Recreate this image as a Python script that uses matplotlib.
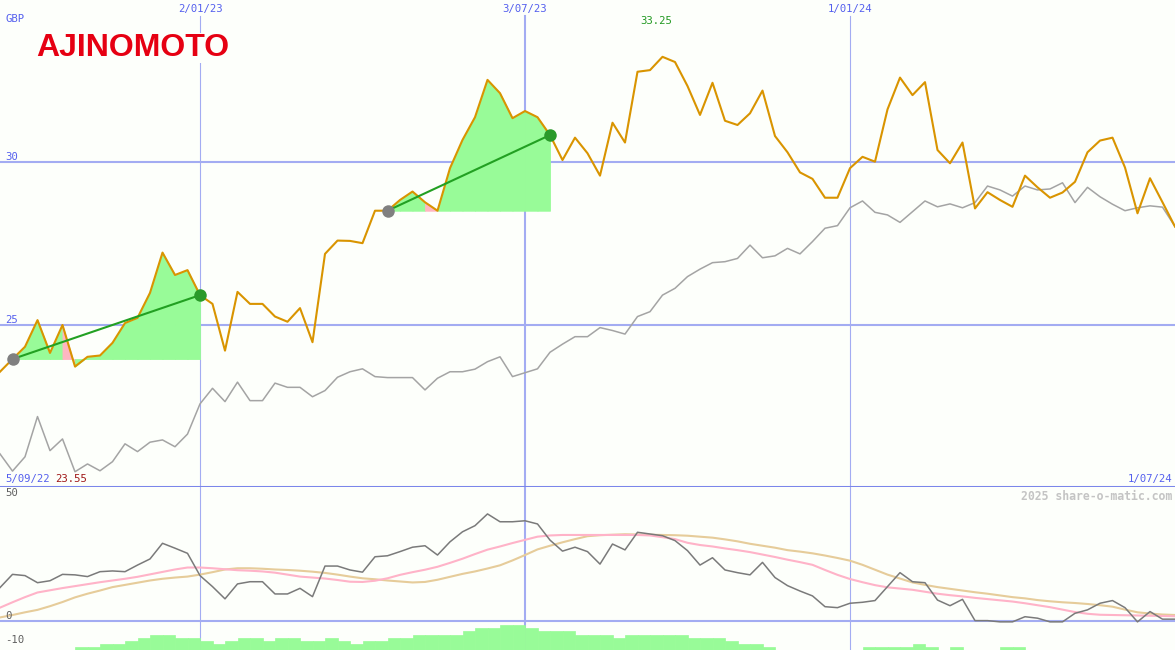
import numpy as np
import pandas as pd
import matplotlib
matplotlib.use('Agg')
import matplotlib.pyplot as plt
import matplotlib.transforms as mtransforms

# weekly closes, GBP
dates = pd.date_range('2022-09-12', periods=95, freq='7D')
start_label = '5/09/22'
end_label = '1/07/24'

price = [23.55, 23.94, 24.32, 25.14, 24.13, 24.99, 23.71, 24.01, 24.05, 24.44,
         25.05, 25.21, 25.98, 27.22, 26.53, 26.68, 25.91, 25.64, 24.20, 26.01,
         25.64, 25.64, 25.25, 25.09, 25.51, 24.46, 27.18, 27.59, 27.58, 27.51,
         28.51, 28.51, 28.84, 29.10, 28.77, 28.51, 29.82, 30.69, 31.39, 32.54,
         32.13, 31.36, 31.58, 31.39, 30.84, 30.07, 30.76, 30.28, 29.59, 31.22,
         30.61, 32.79, 32.84, 33.25, 33.09, 32.35, 31.46, 32.45, 31.28, 31.15,
         31.51, 32.21, 30.81, 30.31, 29.69, 29.49, 28.91, 28.91, 29.82, 30.17,
         30.02, 31.63, 32.61, 32.07, 32.47, 30.38, 29.97, 30.61, 28.58, 29.08,
         28.84, 28.63, 29.59, 29.23, 28.91, 29.07, 29.40, 30.31, 30.67, 30.76,
         29.84, 28.43, 29.51, 28.77, 28.02]

# comparison index (rebased)
index = [21.02, 20.49, 20.93, 22.17, 21.12, 21.48, 20.47, 20.71, 20.50, 20.78,
         21.33, 21.09, 21.38, 21.45, 21.24, 21.63, 22.56, 23.04, 22.63, 23.23,
         22.66, 22.66, 23.20, 23.07, 23.07, 22.78, 22.97, 23.38, 23.55, 23.64,
         23.40, 23.37, 23.37, 23.37, 22.99, 23.35, 23.55, 23.55, 23.63, 23.86,
         24.01, 23.40, 23.52, 23.64, 24.15, 24.40, 24.63, 24.63, 24.91, 24.82,
         24.71, 25.25, 25.40, 25.91, 26.12, 26.48, 26.71, 26.91, 26.94, 27.04,
         27.45, 27.06, 27.12, 27.35, 27.18, 27.56, 27.97, 28.05, 28.60, 28.81,
         28.46, 28.38, 28.15, 28.48, 28.81, 28.63, 28.72, 28.60, 28.76, 29.27,
         29.15, 28.96, 29.27, 29.15, 29.18, 29.37, 28.76, 29.23, 28.94, 28.71,
         28.51, 28.60, 28.66, 28.62, 28.02]

# lower panel oscillator and its two averages
osc = [13.5, 18.9, 18.4, 15.5, 16.3, 18.9, 18.7, 18.0, 20.0, 20.3,
       20.0, 22.7, 25.2, 31.6, 29.6, 27.5, 18.4, 13.9, 8.9, 15.0,
       15.9, 15.9, 10.9, 10.9, 13.2, 9.8, 22.3, 22.3, 20.7, 19.8,
       26.1, 26.5, 28.2, 30.0, 30.6, 26.8, 32.2, 36.3, 38.8, 43.6,
       40.4, 40.4, 40.8, 39.5, 32.9, 28.4, 30.0, 28.2, 23.1, 31.3,
       28.9, 36.1, 35.4, 34.7, 32.7, 28.6, 22.7, 25.7, 20.7, 19.6,
       18.7, 23.8, 17.6, 14.3, 12.1, 10.1, 5.7, 5.3, 7.1, 7.5,
       8.2, 13.9, 19.6, 15.9, 15.5, 8.4, 6.1, 8.7, 0.0, 0.0,
       -0.5, -0.5, 1.6, 1.0, -0.5, -0.5, 3.0, 4.4, 7.1, 8.2,
       5.3, -0.5, 3.7, 0.6, 0.6]

avg_fast = [5.3, 7.5, 9.6, 11.5, 12.4, 13.3, 14.1, 14.9, 15.7, 16.4,
            17.1, 17.9, 18.9, 19.9, 20.9, 21.7, 21.7, 21.4, 21.0, 20.6,
            20.4, 20.1, 19.6, 18.8, 18.0, 17.6, 17.2, 16.6, 15.9, 15.8,
            16.3, 17.3, 18.7, 19.8, 20.8, 22.0, 23.6, 25.3, 27.2, 29.0,
            30.3, 31.7, 33.0, 34.3, 34.8, 35.0, 35.0, 35.0, 35.0, 35.0,
            35.0, 35.0, 34.8, 34.1, 33.3, 31.8, 30.9, 30.3, 29.5, 28.8,
            28.0, 27.0, 26.0, 24.9, 23.9, 22.8, 20.7, 18.7, 17.0, 15.7,
            14.5, 13.6, 13.1, 12.6, 11.8, 11.0, 10.4, 9.9, 9.3, 8.8,
            8.3, 7.8, 7.1, 6.3, 5.5, 4.5, 3.5, 2.8, 2.4, 2.3,
            2.2, 2.1, 2.0, 1.9, 1.8]

avg_slow = [1.3, 2.3, 3.4, 4.4, 5.9, 7.6, 9.5, 11.0, 12.3, 13.7,
            14.6, 15.5, 16.4, 17.1, 17.6, 18.0, 18.8, 19.8, 20.9, 21.4,
            21.4, 21.2, 20.9, 20.7, 20.4, 20.0, 19.5, 18.8, 18.0, 17.3,
            16.9, 16.4, 16.0, 15.6, 15.8, 16.7, 17.9, 19.1, 20.1, 21.3,
            22.6, 24.6, 26.8, 29.1, 30.6, 32.0, 33.3, 34.5, 34.9, 35.1,
            35.3, 35.2, 35.1, 35.0, 34.9, 34.7, 34.3, 33.9, 33.2, 32.4,
            31.4, 30.6, 29.8, 28.8, 28.2, 27.5, 26.6, 25.6, 24.5, 22.8,
            20.8, 18.8, 17.2, 15.6, 14.6, 13.7, 13.0, 12.3, 11.6, 11.0,
            10.3, 9.6, 9.1, 8.4, 7.9, 7.5, 7.2, 6.8, 6.3, 5.7,
            4.5, 3.4, 2.9, 2.5, 2.3]

# histogram tops (nan = no bar)
nan = np.nan
hist = [nan, nan, nan, nan, nan, nan, -10.9, -10.9, -9.5, -9.5,
        -8.2, -6.9, -5.8, -5.8, -6.9, -6.9, -8.2, -9.5, -8.2, -6.9,
        -6.9, -8.2, -6.9, -6.9, -8.2, -8.2, -6.9, -8.2, -9.5, -8.2,
        -8.2, -6.9, -6.9, -5.8, -5.8, -5.8, -5.8, -4.1, -2.9, -2.9,
        -1.8, -1.8, -2.9, -4.1, -4.1, -4.1, -5.8, -5.8, -5.8, -6.9,
        -5.8, -5.8, -5.8, -5.8, -5.8, -6.9, -6.9, -6.9, -8.2, -9.5,
        -9.5, -10.9, nan, nan, nan, nan, nan, nan, nan, -10.9,
        -10.9, -10.9, -10.9, -9.5, -10.9, nan, -10.9, nan, nan, nan,
        -10.9, -10.9, nan, nan, nan, nan, nan, nan, nan, nan,
        nan, nan, nan, nan, nan]

# buy / sell signal pairs (week index)
sig_start = [1, 31]
sig_end = [16, 44]

price_ticks = [30, 25]
osc_ticks = [50, 0, -10]
vlines = ['2023-01-02', '2023-07-03', '2024-01-01']
vline_lw = [0.8, 1.5, 0.8]

bg = '#fdfffb'
grid_c = '#a3acf2'
blue = '#5560ee'

W, H = 1175, 650
fig = plt.figure(figsize=(W / 100, H / 100), dpi=100, facecolor=bg)
ax = fig.add_axes([0, 163 / H, 1, 487 / H])
ax2 = fig.add_axes([0, 0, 1, 163 / H])
for a in (ax, ax2):
    a.set_facecolor(bg)
    a.set_xticks([])
    a.set_yticks([])
    for s in a.spines.values():
        s.set_visible(False)
    a.set_xlim(dates[0], dates[-1])
ax.set_ylim(20, 35)
ax2.set_ylim(-12, 54.6)

mono = 'DejaVu Sans Mono'

def ptext(x, y, s, **kw):
    fig.text(x / W, 1 - y / H, s, family=mono, fontsize=7.7, **kw)

# grid
for v in price_ticks:
    ax.axhline(v, color=grid_c, lw=1.5, zorder=1)
    ax.text(5 / W, v, str(v), transform=mtransforms.blended_transform_factory(ax.transAxes, ax.transData),
            family=mono, fontsize=7.7, color=blue, va='bottom', ha='left')
ax2.axhline(0, color=grid_c, lw=1.5, zorder=1)
for v in osc_ticks:
    ax2.text(5 / W, v, str(v), transform=mtransforms.blended_transform_factory(ax2.transAxes, ax2.transData),
             family=mono, fontsize=7.7, color='#606060', va='bottom', ha='left')
ax.axhline(20, color='#7b86ea', lw=2.2, zorder=6, clip_on=False)

top = mtransforms.blended_transform_factory(ax.transData, ax.transAxes)
for d, lw in zip(vlines, vline_lw):
    dd = pd.Timestamp(d)
    ax.axvline(dd, ymax=1 - 16 / 487, color=grid_c, lw=lw, zorder=1)
    ax2.axvline(dd, color=grid_c, lw=lw, zorder=1)
    ax.text(dd, 1 - 9 / 487, dd.strftime('%-d/%m/%y'), transform=top, family=mono,
            fontsize=7.7, color=blue, ha='center', va='center')

# signal fills, one segment at a time, coloured by the segment end
for s, e in zip(sig_start, sig_end):
    base = price[s]
    for i in range(s, e):
        c = '#98fb98' if price[i + 1] > base else '#ffb6c1'
        ax.fill_between(dates[i:i + 2], price[i:i + 2], base, facecolor=c,
                        edgecolor=c, lw=0.6, zorder=2)

ax.plot(dates, index, color='#a4a4a4', lw=1.1, zorder=3)
ax.plot(dates, price, color='#d99400', lw=1.5, zorder=4)

for s, e in zip(sig_start, sig_end):
    ax.plot([dates[s], dates[e]], [price[s], price[e]], color='#22a022', lw=1.5, zorder=5)
    ax.plot(dates[s], price[s], 'o', ms=9, color='#808080', mec='none', zorder=6)
    ax.plot(dates[e], price[e], 'o', ms=9, color='#2a9a2a', mec='none', zorder=6)

# lower panel
ax2.bar(dates, np.array(hist) + 12, bottom=-12, width=7, align='edge', color='#98fb98',
        edgecolor='#98fb98', lw=0.5, zorder=1)
ax2.plot(dates, avg_slow, color='#e6cc9a', lw=1.5, zorder=2)
ax2.plot(dates, avg_fast, color='#ffb3c8', lw=1.5, zorder=3)
ax2.plot(dates, osc, color='#7a7a7a', lw=1.1, zorder=4)

# labels
ptext(5, 19, 'GBP', color=blue, va='center')
imax = int(np.argmax(price))
ptext(656, 21, f'{price[imax]:.2f}', color='#229922', va='center', ha='center')
ptext(5, 479, start_label, color=blue, va='center')
ptext(55, 479, f'{price[0]:.2f}', color='#a01818', va='center')
ptext(1172, 479, end_label, color=blue, va='center', ha='right')
fig.text(1172 / W, 1 - 496 / H, '2025 share-o-matic.com', family=mono, fontsize=8.3,
         color='#c4c4c4', weight='bold', ha='right', va='center')

fig.text(36 / W, 1 - 48 / H, 'AJINOMOTO', family='Liberation Sans', weight='bold',
         fontsize=23, color='#e60012', ha='left', va='center',
         bbox=dict(facecolor=bg, edgecolor='none', pad=0))

fig.savefig('out.png', dpi=100, facecolor=bg)
